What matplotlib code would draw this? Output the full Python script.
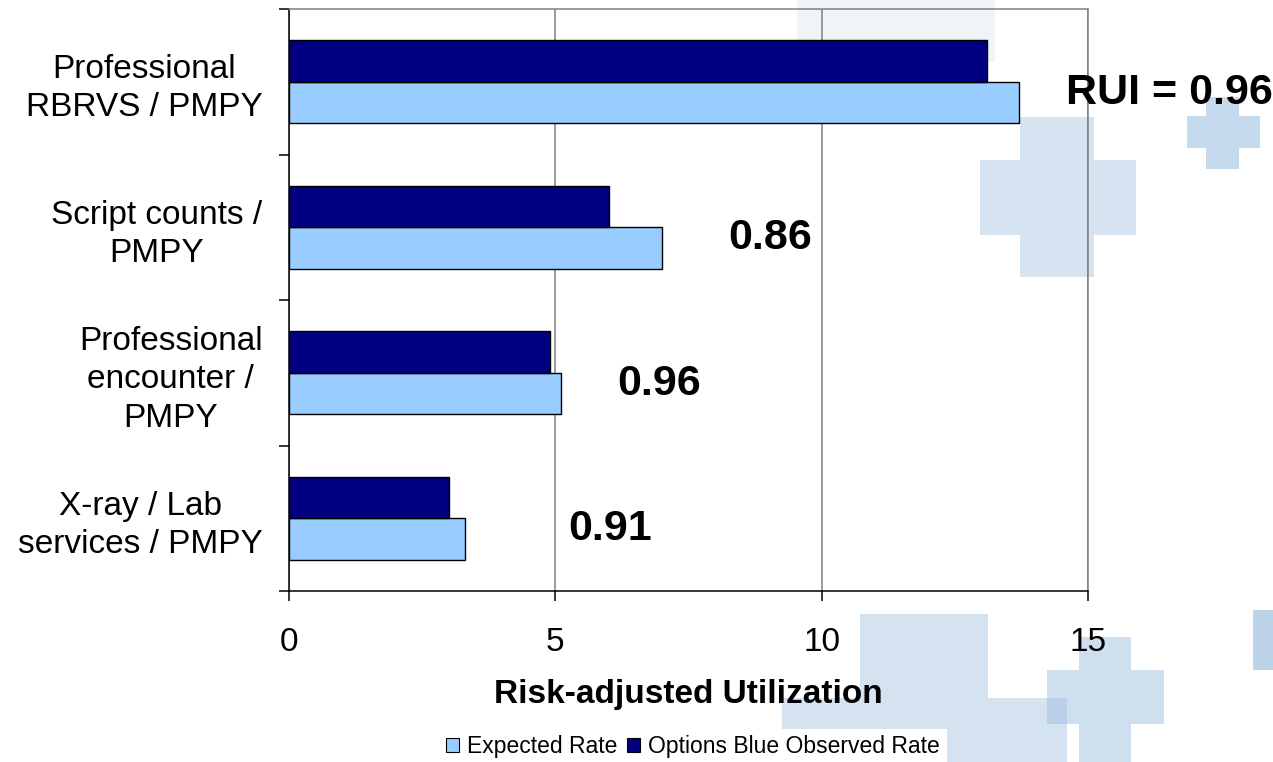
import numpy as np
import matplotlib.pyplot as plt
from matplotlib.patches import Rectangle
from matplotlib.patches import Patch

plt.rcParams['font.family'] = ['Liberation Sans', 'DejaVu Sans']

# data, listed top to bottom as on the chart
categories = ["Professional\nRBRVS / PMPY",
              "Script counts /\nPMPY",
              "Professional\nencounter /\nPMPY",
              "X-ray / Lab\nservices / PMPY"]
expected = [13.7, 7.0, 5.1, 3.3]
observed = [13.1, 6.0, 4.9, 3.0]
rui = [0.96, 0.86, 0.96, 0.91]

# where the RUI numbers sit (x in data units)
label_x = [14.59, 8.24, 6.16, 5.24]

W, H = 1273, 762
fig = plt.figure(figsize=(W / 100, H / 100), dpi=100)

# light blue crosses in the background (pixel boxes, top-left origin)
def px_rect(x0, y0, x1, y1, color, alpha=1.0):
    r = Rectangle((x0 / W, 1 - y1 / H), (x1 - x0) / W, (y1 - y0) / H,
                  transform=fig.transFigure, facecolor=color, edgecolor="none",
                  alpha=alpha, zorder=-5)
    fig.add_artist(r)

px_rect(797, 0, 995, 62, "#f0f3f7")
# big cross right of the plot
px_rect(1020, 117, 1094, 277, "#d6e3f1")
px_rect(980, 160, 1020, 235, "#d6e3f1")
px_rect(1094, 160, 1136, 235, "#d6e3f1")
# small cross top right
px_rect(1206, 97, 1239, 169, "#c6daee")
px_rect(1187, 116, 1206, 148, "#c6daee")
px_rect(1239, 116, 1260, 148, "#c6daee")
# blocks at the bottom
px_rect(860, 614, 988, 698, "#d5e3f1")
px_rect(782, 698, 1067, 762, "#d5e3f1")
px_rect(1079, 637, 1131, 762, "#9fc0e0", alpha=0.5)
px_rect(1047, 670, 1079, 724, "#9fc0e0", alpha=0.5)
px_rect(1131, 670, 1164, 724, "#9fc0e0", alpha=0.5)
px_rect(1253, 610, 1273, 670, "#bcd3ea")

ax = fig.add_axes([289 / W, 1 - 591 / H, (1088 - 289) / W, (591 - 9) / H])
ax.set_facecolor("none")

n = len(categories)
ypos = np.arange(n)[::-1]
h = 0.285

ax.barh(ypos - h / 2, expected, height=h, color="#99ccff", edgecolor="black",
        linewidth=1.0, label="Expected Rate", zorder=3)
ax.barh(ypos + h / 2, observed, height=h, color="#000080", edgecolor="black",
        linewidth=1.0, label="Options Blue Observed Rate", zorder=3)

for i, r in enumerate(rui):
    txt = f"RUI = {r:.2f}" if i == 0 else f"{r:.2f}"
    ax.text(label_x[i], ypos[i] - 0.15, txt, fontsize=31, fontweight="bold",
            ha="left", va="baseline", zorder=4)

ax.set_xlim(0, 15)
ax.set_ylim(-0.5, n - 0.5)
ax.set_xticks([0, 5, 10, 15])
ax.tick_params(axis="x", direction="out", length=7, width=1.1, labelsize=24,
               pad=19, color="black")

# category boundaries get the tick marks, names sit in between
ax.set_yticks(np.arange(-0.5, n, 1.0))
ax.set_yticklabels([])
ax.tick_params(axis="y", which="major", direction="out", length=7, width=1.1)
ax.set_yticks(ypos, minor=True)
ax.set_yticklabels(categories, minor=True, fontsize=24, multialignment="center",
                   linespacing=1.3)
ax.tick_params(axis="y", which="minor", length=0, pad=19)

ax.xaxis.grid(True, color="#808080", linewidth=1.1, zorder=1)
ax.set_axisbelow(True)
for s in ["left", "bottom"]:
    ax.spines[s].set_color("black")
    ax.spines[s].set_linewidth(1.1)
for s in ["top", "right"]:
    ax.spines[s].set_color("#808080")
    ax.spines[s].set_linewidth(1.1)

ax.set_xlabel("Risk-adjusted Utilization", fontsize=24, fontweight="bold",
              labelpad=15)

handles = [Patch(facecolor="#99ccff", edgecolor="black", linewidth=0.8),
           Patch(facecolor="#000080", edgecolor="black", linewidth=0.8)]
leg = ax.legend(handles, ["Expected Rate", "Options Blue Observed Rate"],
                loc="center", bbox_to_anchor=(693 / W, 1 - 747 / H),
                bbox_transform=fig.transFigure, ncol=2, fontsize=16.5,
                handlelength=0.55, handleheight=0.55, handletextpad=0.35,
                columnspacing=0.45, borderpad=0.3, frameon=True, fancybox=False,
                framealpha=1, facecolor="white", edgecolor="none")

fig.savefig("out.png", dpi=100)
